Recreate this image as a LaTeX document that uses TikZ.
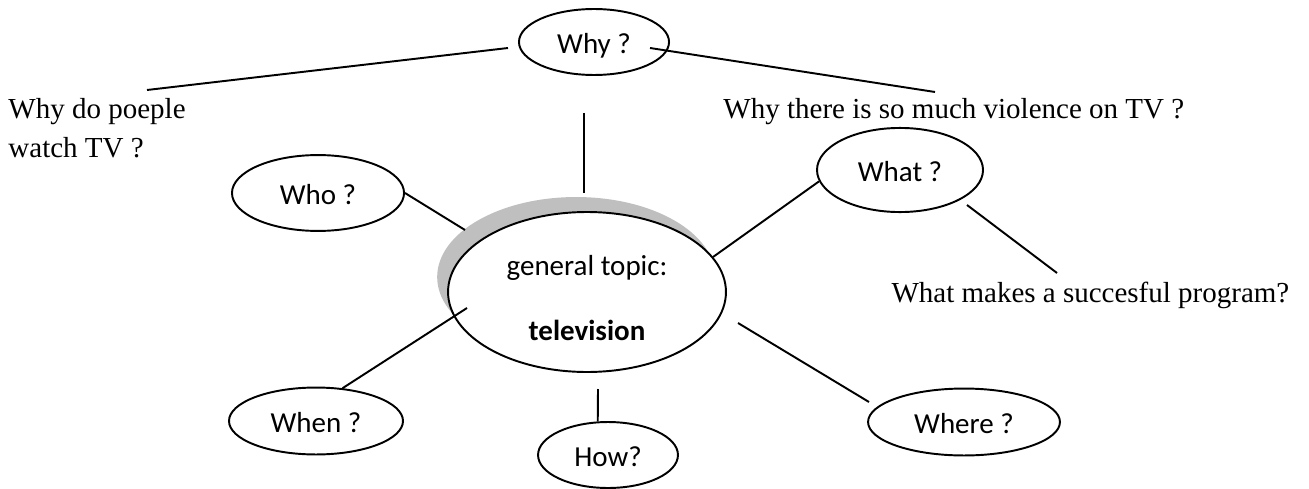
\documentclass[tikz,border=0pt]{standalone}
\usepackage{fontspec}
\setmainfont{Liberation Serif}
\newfontfamily\calibri{Carlito}
\usetikzlibrary{shapes,
                shadows,
                positioning}
\tikzset{question/.style=
   {ellipse,
    draw,
    fill=white,
    line width=0.8pt,
    inner sep=0pt,
    text height=9.5pt,
    text depth=0pt,
    font=\calibri\fontsize{12}{14}\selectfont}}
\tikzset{topic/.style=
   {ellipse,
    draw,
    fill=white,
    line width=0.8pt,
    inner sep=0pt,
    general shadow={fill=black!25,
                    shadow xshift=-4.5pt,
                    shadow yshift=6.2pt}}}
\tikzset{topic-text/.style =
   {inner sep=0pt,
    anchor=base,
    font=\calibri\fontsize{12}{14}\selectfont}}
\tikzset{remark/.style =
   {inner sep=0pt,
    anchor=base west,
    font=\fontsize{12}{14}\selectfont}}
\tikzset{link/.style = {draw, line width=0.8pt}}

\begin{document}
\begin{tikzpicture}[x=0.4138pt, y=-0.4138pt]
    \useasboundingbox (0,0) rectangle (1309,488);

    % the topic in the middle
    \node [topic,
           minimum width=115pt,
           minimum height=66.2pt] (tv) at (587,292) {};
    \node [topic-text] (tvtop) at (587,275) {general topic:};
    \node [topic-text] (tvname) at (587,340) {\bfseries television};

    % questions
    \node [question,
           minimum width=62.1pt,
           minimum height=27.3pt] (why) at (594,42) {Why ?};
    \node [question,
           minimum width=71.2pt,
           minimum height=31.4pt] (who) at (318,193) {Who ?};
    \node [question,
           minimum width=68.7pt,
           minimum height=34.8pt] (what) at (900,170) {What ?};
    \node [question,
           minimum width=72pt,
           minimum height=27.7pt] (when) at (316,421) {When ?};
    \node [question,
           minimum width=57.9pt,
           minimum height=27.3pt] (how) at (608,455) {How?};
    \node [question,
           minimum width=79.4pt,
           minimum height=27.7pt] (where) at (964,422) {Where ?};

    % example questions
    \node [remark] (poeple) at (8,118) {Why do poeple};
    \node [remark] (watch) at (8,157) {watch TV ?};
    \node [remark] (violence) at (723,118) {Why there is so much violence on TV ?};
    \node [remark] (success) at (891,302) {What makes a succesful program?};

    % loose line ends
    \coordinate (poeple-end) at (147,90);
    \coordinate (why-left) at (508,48);
    \coordinate (why-right) at (650,48);
    \coordinate (violence-end) at (935,92);
    \coordinate (why-down) at (584,113);
    \coordinate (tv-up) at (584,193);
    \coordinate (tv-who) at (465,230);
    \coordinate (tv-what) at (713,257);
    \coordinate (what-down) at (967,205);
    \coordinate (success-end) at (1057,273);
    \coordinate (tv-when) at (467,308);
    \coordinate (tv-how) at (598,389);
    \coordinate (tv-where) at (738,323);
    \coordinate (where-end) at (869,402);

    \draw [link] (poeple-end) -- (why-left);
    \draw [link] (why-right) -- (violence-end);
    \draw [link] (why-down) -- (tv-up);
    \draw [link] (who.east) -- (tv-who);
    \draw [link] (tv-what) -- (what.188);
    \draw [link] (what-down) -- (success-end);
    \draw [link] (tv-when) -- (when.51);
    \draw [link] (tv-how) -- (how.107);
    \draw [link] (tv-where) -- (where-end);

\end{tikzpicture}
\end{document}
